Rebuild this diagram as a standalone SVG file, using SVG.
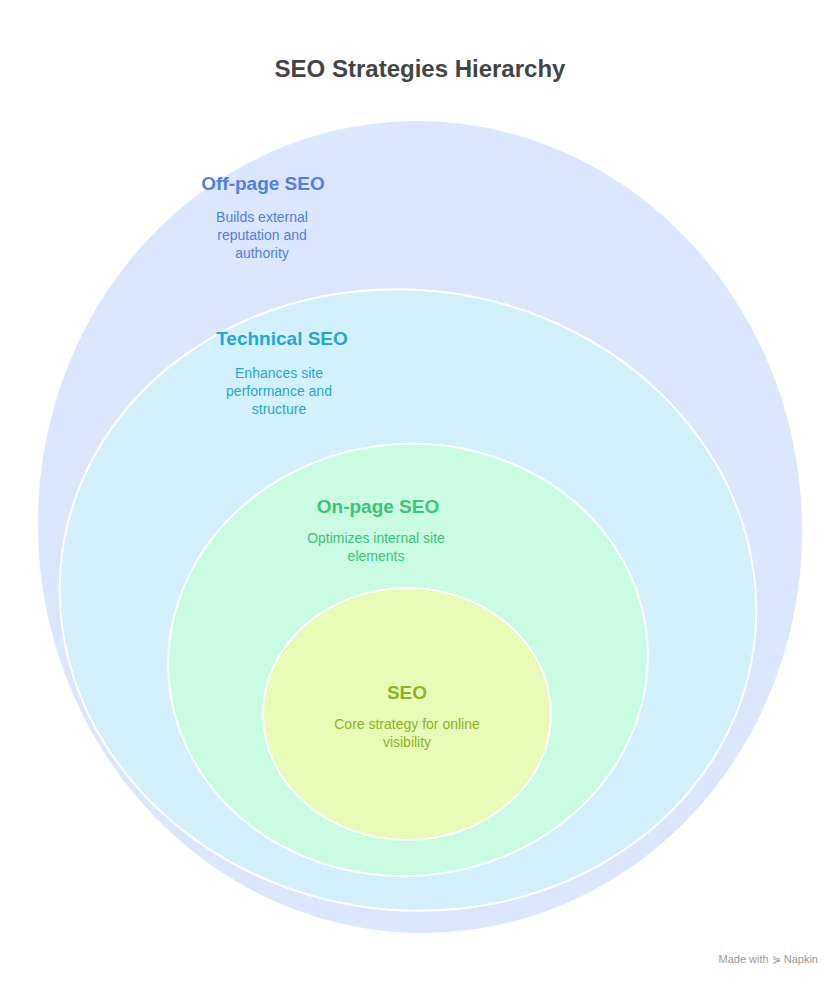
<svg xmlns="http://www.w3.org/2000/svg" width="840" height="984" viewBox="0 0 840 984">
<style>
.t{font-family:"Liberation Sans",Arial,sans-serif;font-weight:bold;font-size:19px;text-anchor:middle}
.d{font-family:"Liberation Sans",Arial,sans-serif;font-size:14px;text-anchor:middle}
.e{stroke:#fff;stroke-width:2}
</style>
<rect width="840" height="984" fill="#fff"/>
<text x="420" y="77" class="t" style="font-size:24px" fill="#444">SEO Strategies Hierarchy</text>
<g id="offpage">
<ellipse class="e" cx="420" cy="527" rx="383" ry="407" fill="#dce6fd" transform="rotate(-4 420 527)"/>
<text x="263" y="190" class="t" fill="#4f7fe8">Off-page SEO</text>
<text class="d" fill="#4f7fe8"><tspan x="262" y="222">Builds external</tspan><tspan x="262" y="240">reputation and</tspan><tspan x="262" y="258">authority</tspan></text>
</g>
<g id="technical">
<ellipse class="e" cx="408" cy="600" rx="349" ry="310" fill="#d3f1fd" transform="rotate(8 408 600)"/>
<text x="282" y="345" class="t" fill="#22a8d8">Technical SEO</text>
<text class="d" fill="#22a8d8"><tspan x="279" y="378">Enhances site</tspan><tspan x="279" y="396">performance and</tspan><tspan x="279" y="414">structure</tspan></text>
</g>
<g id="onpage">
<ellipse class="e" cx="408" cy="660" rx="240" ry="216" fill="#c9fce3" transform="rotate(-5 408 660)"/>
<text x="378" y="513" class="t" fill="#3cc47a">On-page SEO</text>
<text class="d" fill="#3cc47a"><tspan x="376" y="543">Optimizes internal site</tspan><tspan x="376" y="561">elements</tspan></text>
</g>
<g id="seo">
<ellipse class="e" cx="407" cy="714" rx="144" ry="126" fill="#e8fcb8"/>
<text x="407" y="699" class="t" fill="#8ab61e">SEO</text>
<text class="d" fill="#8ab61e"><tspan x="407" y="729">Core strategy for online</tspan><tspan x="407" y="747">visibility</tspan></text>
</g>
<g id="connectors"/>
<text x="818" y="963" font-family="'Liberation Sans',Arial,sans-serif" font-size="11" fill="#999" text-anchor="end">Made with ⋟ Napkin</text>
</svg>
